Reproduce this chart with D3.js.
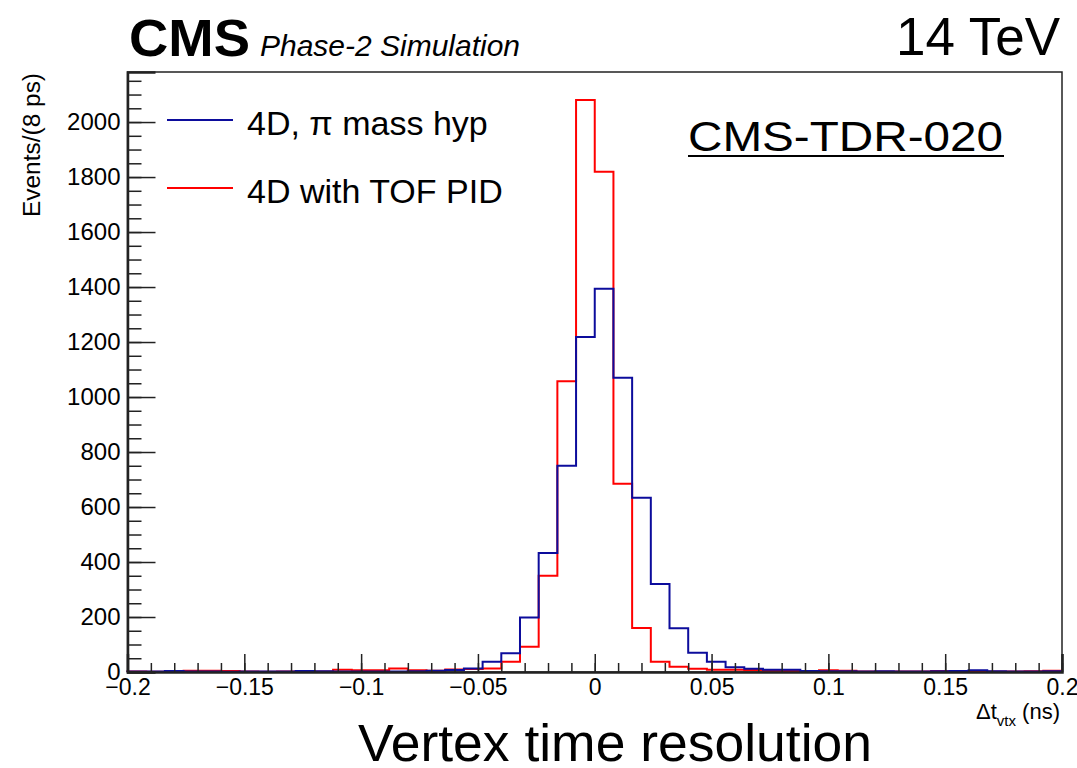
<!DOCTYPE html>
<html>
<head>
<meta charset="utf-8">
<script src="https://cdn.jsdelivr.net/npm/d3@7"></script>
<style>
  body { margin: 0; background: #fff; }
  text { font-family: "Liberation Sans", Arial, Helvetica, sans-serif; fill: #000; }
</style>
</head>
<body>
<div id="chart"></div>
<script>
// bin edges: -0.2 .. 0.2 ns in steps of 8 ps (50 bins)
var binLow = d3.range(50).map(function(k){ return +(-0.2 + 0.008 * k).toFixed(3) })
var binWidth = 0.008

// 4D, pi mass hypothesis
var piMassHyp = [2, 2, 4, 2, 2, 1, 2, 2, 2, 4,
                 3, 2, 2, 2, 2, 3, 5, 7, 13, 37,
                 68, 198, 433, 750, 1218, 1394, 1070, 634, 320, 159,
                 70, 37, 17, 12, 8, 8, 4, 3, 3, 2,
                 3, 2, 2, 3, 4, 6, 3, 2, 2, 3]

// 4D with TOF PID
var tofPid = [2, 1, 2, 5, 5, 4, 2, 1, 2, 3,
              2, 8, 6, 6, 13, 6, 5, 9, 11, 13,
              37, 92, 350, 1057, 2080, 1819, 685, 160, 37, 19,
              12, 8, 8, 7, 5, 4, 3, 6, 5, 2,
              2, 2, 2, 4, 2, 3, 2, 2, 3, 5]

var seriesNames = ["4D, \u03c0 mass hyp", "4D with TOF PID"]
var seriesColors = ["#0c0c9c", "#ff0000"]

var xMajor = [-0.2, -0.15, -0.1, -0.05, 0, 0.05, 0.1, 0.15, 0.2]
var yMajor = d3.range(0, 2001, 200)

var width = 1077
var height = 768
var padL = 127.5, padR = 1062, padT = 72, padB = 672

var svg = d3.select("#chart")
            .append("svg")
            .attr("width", width)
            .attr("height", height)

var x = d3.scaleLinear().domain([-0.2, 0.2]).range([padL, padR])
var y = d3.scaleLinear().domain([0, 2182]).range([padB, padT])

function fmt(d){
    if (d == 0) return "0"
    return (d < 0 ? "\u2212" : "") + String(+Math.abs(d).toFixed(2))
}

// frame
svg.append("rect")
    .attr("x", padL).attr("y", padT)
    .attr("width", padR - padL).attr("height", padB - padT)
    .attr("fill", "none").attr("stroke", "#222").attr("stroke-width", 1.5)

// histograms
function histPoints(vals){
    var pts = [{e: -0.2, v: 0}]
    for (var i = 0; i < vals.length; i++) pts.push({e: binLow[i], v: vals[i]})
    pts.push({e: binLow[vals.length - 1] + binWidth, v: vals[vals.length - 1]})
    pts.push({e: 0.2, v: 0})
    return pts
}
var line = d3.line()
             .x(function(d){ return x(d.e) })
             .y(function(d){ return y(d.v) })
             .curve(d3.curveStepAfter)

svg.append("path")
    .attr("d", line(histPoints(tofPid)))
    .attr("fill", "none").attr("stroke", seriesColors[1]).attr("stroke-width", 2)
svg.append("path")
    .attr("d", line(histPoints(piMassHyp)))
    .attr("fill", "none").attr("stroke", seriesColors[0]).attr("stroke-width", 2)

// y axis
var yMinor = svg.append("g").attr("transform", "translate(" + padL + ",0)")
    .call(d3.axisLeft(y).tickValues(d3.range(0, 2151, 50)).tickSize(-14).tickFormat(""))
var yAx = svg.append("g").attr("transform", "translate(" + padL + ",0)")
    .call(d3.axisLeft(y).tickValues(yMajor).tickSize(-28).tickPadding(7).tickFormat(d3.format("d")))
yAx.selectAll("text").style("font-size", "24px")
yAx.select(".domain").attr("stroke-width", 2.5)

// x axis
var xMinor = svg.append("g").attr("transform", "translate(0," + padB + ")")
    .call(d3.axisBottom(x).tickValues(d3.range(-20, 21).map(function(k){ return k / 100 })).tickSize(-9).tickFormat(""))
var xAx = svg.append("g").attr("transform", "translate(0," + padB + ")")
    .call(d3.axisBottom(x).tickValues(xMajor).tickSize(-18).tickPadding(7).tickFormat(fmt))
xAx.selectAll("text").style("font-size", "23px")
xAx.select(".domain").attr("stroke-width", 2.5)

svg.selectAll(".domain").attr("stroke", "#222")
svg.selectAll(".tick line").attr("stroke", "#222").attr("stroke-width", 1.5)
// tick marks only on the bottom / left side
yMinor.select(".domain").remove()
xMinor.select(".domain").remove()

// axis titles
svg.append("text")
    .attr("transform", "translate(40,73) rotate(-90)")
    .attr("text-anchor", "end")
    .style("font-size", "23px")
    .attr("textLength", 144).attr("lengthAdjust", "spacingAndGlyphs")
    .text("Events/(8 ps)")

var xt = svg.append("text")
    .attr("x", 1060).attr("y", 719)
    .attr("text-anchor", "end")
    .style("font-size", "22px")
xt.append("tspan").text("\u0394t")
xt.append("tspan").attr("dy", 7).style("font-size", "15px").text("vtx")
xt.append("tspan").attr("dy", -7).text(" (ns)")

// legend
var legend = svg.selectAll(".leg")
    .data(seriesNames)
    .enter()
    .append("g")
    .attr("transform", function(d, i){ return "translate(0," + (120 + i * 68) + ")" })
legend.append("line")
    .attr("x1", 167).attr("x2", 233)
    .attr("stroke", function(d, i){ return seriesColors[i] })
    .attr("stroke-width", 2)
legend.append("text")
    .attr("x", 247).attr("y", 15)
    .style("font-size", "34px")
    .text(function(d){ return d })

// labels
svg.append("text")
    .attr("x", 129).attr("y", 56)
    .style("font-size", "51px").style("font-weight", "bold")
    .attr("textLength", 121).attr("lengthAdjust", "spacingAndGlyphs")
    .text("CMS")
svg.append("text")
    .attr("x", 260).attr("y", 56)
    .style("font-size", "29px").style("font-style", "italic")
    .attr("textLength", 260).attr("lengthAdjust", "spacingAndGlyphs")
    .text("Phase-2 Simulation")
svg.append("text")
    .attr("x", 1060).attr("y", 55)
    .attr("text-anchor", "end")
    .style("font-size", "53px")
    .text("14 TeV")
svg.append("text")
    .attr("x", 688).attr("y", 151)
    .style("font-size", "42px")
    .attr("textLength", 315).attr("lengthAdjust", "spacingAndGlyphs")
    .text("CMS-TDR-020")
svg.append("line")
    .attr("x1", 688).attr("x2", 1004)
    .attr("y1", 156).attr("y2", 156)
    .attr("stroke", "#000").attr("stroke-width", 2)
svg.append("text")
    .attr("x", 358).attr("y", 761)
    .style("font-size", "51px")
    .attr("textLength", 514).attr("lengthAdjust", "spacingAndGlyphs")
    .text("Vertex time resolution")
</script>
</body>
</html>
